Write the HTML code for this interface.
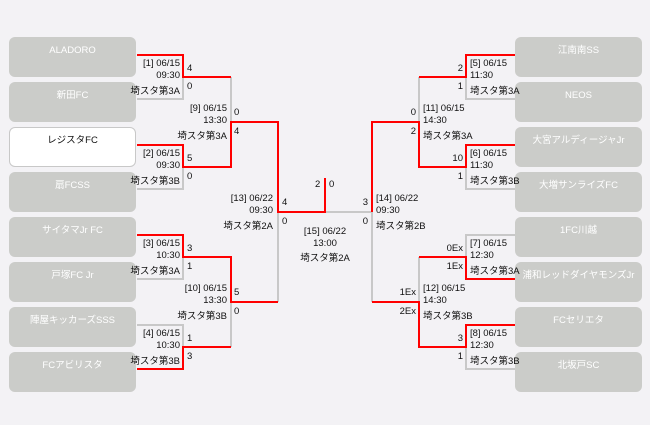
<!DOCTYPE html>
<html><head><meta charset="utf-8"><style>
body{margin:0;width:650px;height:425px;background:#f3f2f5;position:relative;overflow:hidden;font-family:"Liberation Sans","Noto Sans CJK JP",sans-serif;font-size:9.5px;color:#111}
.b{position:absolute;width:127px;height:40px;background:#cbccc9;border-radius:6px;color:#fff;text-align:center;line-height:27px;font-size:9.5px;white-space:nowrap}
.b.w{background:#fff;color:#111;border:1px solid #c8c8c8;width:125px;height:38px;line-height:25px}
.t{position:absolute;line-height:12px;white-space:nowrap}
.r{text-align:right}
svg{position:absolute;left:0;top:0}
</style></head><body>
<svg width="650" height="425">
<g fill="none" stroke-width="2" stroke-linejoin="miter">
<g stroke="#c8c8c8">
<path d="M137 99H183V77"/><path d="M137 189H183V167"/><path d="M137 279H183V257"/><path d="M137 325H183V347"/>
<path d="M231 77V122"/><path d="M231 302V347"/>
<path d="M278 212V302"/><path d="M325 212H372V302"/>
<path d="M515 99H466V77"/><path d="M515 189H466V167"/><path d="M515 235H466V257"/><path d="M515 369H466V347"/>
<path d="M419 77V122"/><path d="M419 257V302"/>
</g>
<g stroke="#ff0000">
<path d="M137 55H183V77H231"/><path d="M137 145H183V167H231V122H278V212H325V178"/>
<path d="M137 235H183V257H231V302H278"/><path d="M137 369H183V347H231"/>
<path d="M515 55H466V77H419"/><path d="M515 145H466V167H419V122H372V212"/>
<path d="M515 279H466V257H419"/><path d="M515 325H466V347H419V302H372"/>
</g>
</g>
</svg>
<div class="b" style="left:9px;top:37px">ALADORO</div>
<div class="b" style="left:9px;top:82px">新田FC</div>
<div class="b w" style="left:9px;top:127px">レジスタFC</div>
<div class="b" style="left:9px;top:172px">扇FCSS</div>
<div class="b" style="left:9px;top:217px">サイタマJr FC</div>
<div class="b" style="left:9px;top:262px">戸塚FC Jr</div>
<div class="b" style="left:9px;top:307px">陣屋キッカーズSSS</div>
<div class="b" style="left:9px;top:352px">FCアビリスタ</div>
<div class="b" style="left:515px;top:37px">江南南SS</div>
<div class="b" style="left:515px;top:82px">NEOS</div>
<div class="b" style="left:515px;top:127px">大宮アルディージャJr</div>
<div class="b" style="left:515px;top:172px">大増サンライズFC</div>
<div class="b" style="left:515px;top:217px">1FC川越</div>
<div class="b" style="left:515px;top:262px">浦和レッドダイヤモンズJr</div>
<div class="b" style="left:515px;top:307px">FCセリエタ</div>
<div class="b" style="left:515px;top:352px">北坂戸SC</div>

<div class="t r" style="right:470px;top:58px">[1] 06/15<br>09:30</div><div class="t r" style="right:470px;top:86px">埼スタ第3A</div>
<div class="t" style="left:187px;top:63px">4</div><div class="t" style="left:187px;top:81px">0</div>
<div class="t r" style="right:470px;top:148px">[2] 06/15<br>09:30</div><div class="t r" style="right:470px;top:176px">埼スタ第3B</div>
<div class="t" style="left:187px;top:153px">5</div><div class="t" style="left:187px;top:171px">0</div>
<div class="t r" style="right:470px;top:238px">[3] 06/15<br>10:30</div><div class="t r" style="right:470px;top:266px">埼スタ第3A</div>
<div class="t" style="left:187px;top:243px">3</div><div class="t" style="left:187px;top:261px">1</div>
<div class="t r" style="right:470px;top:328px">[4] 06/15<br>10:30</div><div class="t r" style="right:470px;top:356px">埼スタ第3B</div>
<div class="t" style="left:187px;top:333px">1</div><div class="t" style="left:187px;top:351px">3</div>
<div class="t r" style="right:423px;top:103px">[9] 06/15<br>13:30</div><div class="t r" style="right:423px;top:131px">埼スタ第3A</div>
<div class="t" style="left:234px;top:107px">0</div><div class="t" style="left:234px;top:126px">4</div>
<div class="t r" style="right:423px;top:283px">[10] 06/15<br>13:30</div><div class="t r" style="right:423px;top:311px">埼スタ第3B</div>
<div class="t" style="left:234px;top:287px">5</div><div class="t" style="left:234px;top:306px">0</div>
<div class="t r" style="right:377px;top:193px">[13] 06/22<br>09:30</div><div class="t r" style="right:377px;top:221px">埼スタ第2A</div>
<div class="t" style="left:282px;top:197px">4</div><div class="t" style="left:282px;top:216px">0</div>
<div class="t" style="left:376px;top:193px">[14] 06/22<br>09:30</div><div class="t" style="left:376px;top:221px">埼スタ第2B</div>
<div class="t r" style="right:282px;top:197px">3</div><div class="t r" style="right:282px;top:216px">0</div>
<div class="t" style="left:315px;top:179px">2</div><div class="t" style="left:329px;top:179px">0</div>
<div class="t" style="left:275px;top:226px;width:100px;text-align:center">[15] 06/22<br>13:00</div>
<div class="t" style="left:275px;top:253px;width:100px;text-align:center">埼スタ第2A</div>
<div class="t" style="left:470px;top:58px">[5] 06/15<br>11:30</div><div class="t" style="left:470px;top:86px">埼スタ第3A</div>
<div class="t r" style="right:187px;top:63px">2</div><div class="t r" style="right:187px;top:81px">1</div>
<div class="t" style="left:470px;top:148px">[6] 06/15<br>11:30</div><div class="t" style="left:470px;top:176px">埼スタ第3B</div>
<div class="t r" style="right:187px;top:153px">10</div><div class="t r" style="right:187px;top:171px">1</div>
<div class="t" style="left:470px;top:238px">[7] 06/15<br>12:30</div><div class="t" style="left:470px;top:266px">埼スタ第3A</div>
<div class="t r" style="right:187px;top:243px">0Ex</div><div class="t r" style="right:187px;top:261px">1Ex</div>
<div class="t" style="left:470px;top:328px">[8] 06/15<br>12:30</div><div class="t" style="left:470px;top:356px">埼スタ第3B</div>
<div class="t r" style="right:187px;top:333px">3</div><div class="t r" style="right:187px;top:351px">1</div>
<div class="t" style="left:423px;top:103px">[11] 06/15<br>14:30</div><div class="t" style="left:423px;top:131px">埼スタ第3A</div>
<div class="t r" style="right:234px;top:107px">0</div><div class="t r" style="right:234px;top:126px">2</div>
<div class="t" style="left:423px;top:283px">[12] 06/15<br>14:30</div><div class="t" style="left:423px;top:311px">埼スタ第3B</div>
<div class="t r" style="right:234px;top:287px">1Ex</div><div class="t r" style="right:234px;top:306px">2Ex</div>
</body></html>
